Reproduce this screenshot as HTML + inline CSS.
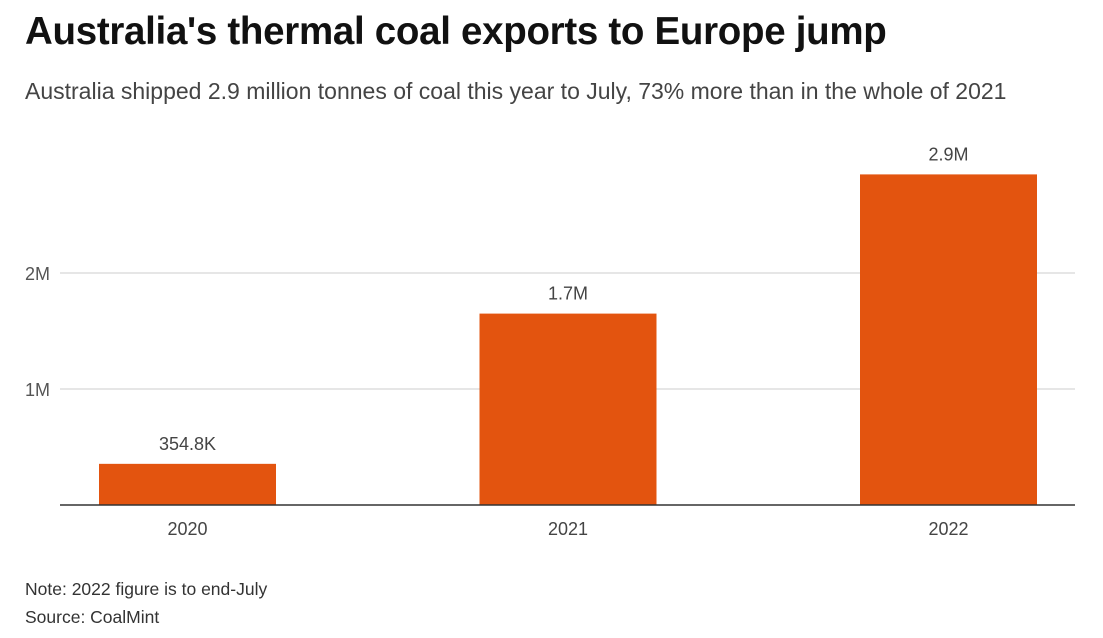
<!DOCTYPE html>
<html><head><meta charset="utf-8"><style>
body{margin:0;background:#fff;width:1103px;height:638px;overflow:hidden;font-family:"Liberation Sans",sans-serif;}
#title{position:absolute;left:25px;top:10px;font-size:38.5px;font-weight:bold;color:#111;letter-spacing:-0.3px;}
#sub{position:absolute;left:25px;top:78px;font-size:23px;color:#444;}
#note{position:absolute;left:25px;top:575px;font-size:17.5px;color:#333;line-height:28px;}
svg{position:absolute;left:0;top:0;}
</style></head><body>
<div id="title">Australia's thermal coal exports to Europe jump</div>
<div id="sub">Australia shipped 2.9 million tonnes of coal this year to July, 73% more than in the whole of 2021</div>
<div id="note">Note: 2022 figure is to end-July<br>Source: CoalMint</div>
<svg id="chart" width="1103" height="638"></svg>
<script>
const categories=["2020","2021","2022"];
const values=[0.3548,1.65,2.85];
const valueLabels=["354.8K","1.7M","2.9M"];
const tickValues=[1,2];
const tickLabels=["1M","2M"];
const svg=document.getElementById('chart');
const NS="http://www.w3.org/2000/svg";
const base=505,perM=116,x0=60,x1=1075;
const y=v=>base-v*perM;
const xc=i=>187.5+i*380.5;
const bw=177;
function mk(t,a){const e=document.createElementNS(NS,t);for(const k in a)e.setAttribute(k,a[k]);svg.appendChild(e);return e;}
tickValues.forEach((v,i)=>{
 const l=mk('line',{x1:x0,x2:x1,y1:y(v),y2:y(v),stroke:'#ccc','stroke-width':1});
 
 
 const t=mk('text',{x:25,y:y(v)+7,'font-size':18,fill:'#555','font-family':'Liberation Sans, sans-serif'});
 t.textContent=tickLabels[i];
 
 
});
categories.forEach((c,i)=>{
 const r=mk('rect',{x:xc(i)-bw/2,y:y(values[i]),width:bw,height:base-y(values[i]),fill:'#e3540f'});
 
 
 const t=mk('text',{x:xc(i),y:y(values[i])-14,'font-size':18,fill:'#444','text-anchor':'middle','font-family':'Liberation Sans, sans-serif'});
 t.textContent=valueLabels[i];
 
 
 const x=mk('text',{x:xc(i),y:535,'font-size':18,fill:'#444','text-anchor':'middle','font-family':'Liberation Sans, sans-serif'});
 x.textContent=c;
 
 
});
const ax=mk('line',{x1:x0,x2:x1,y1:base,y2:base,stroke:'#333','stroke-width':1.5});


</script>
</body></html>
